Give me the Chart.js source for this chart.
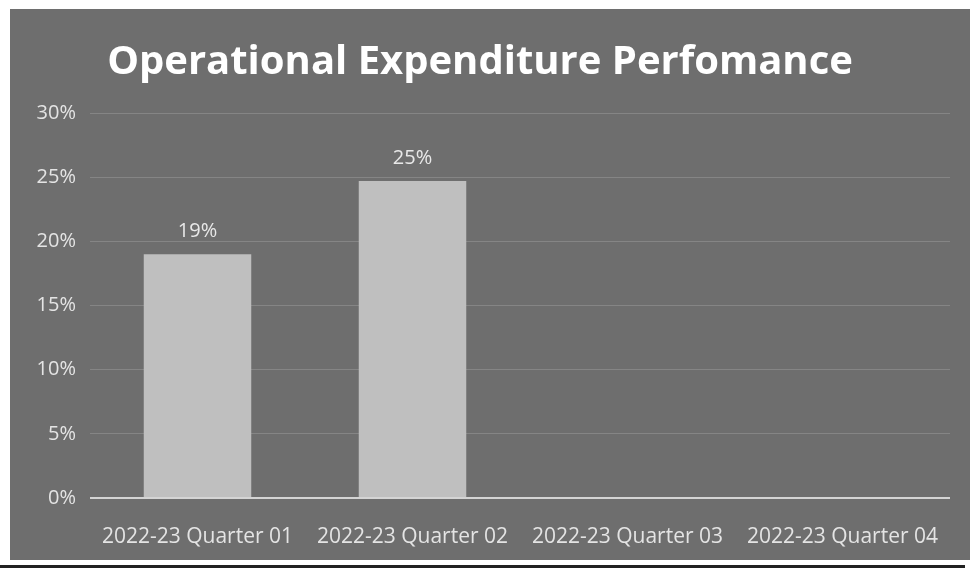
<!DOCTYPE html>
<html>
<head>
<meta charset="utf-8">
<script src="https://cdn.jsdelivr.net/npm/chart.js@4"></script>
<style>
    body { margin: 0; background: #fff; width: 970px; height: 574px; position: relative; overflow: hidden; }
    #box { position: absolute; left: 10px; top: 9px; width: 960px; height: 551px; background: #6e6e6e; }
    #rule { position: absolute; left: 0; top: 565px; width: 965px; height: 3px; background: #222; }
</style>
</head>
<body>
<div id="box"><canvas id="chart" width="960" height="551"></canvas></div>
<div id="rule"></div>
<script>
const quarters = ['2022-23 Quarter 01', '2022-23 Quarter 02', '2022-23 Quarter 03', '2022-23 Quarter 04'];
const spend = [19, 24.7, null, null];
const yTicks = [0, 5, 10, 15, 20, 25, 30];

// simple value labels above bars
const barLabels = {
    id: 'barLabels',
    afterDatasetsDraw(chart) {
        const ctx = chart.ctx;
        const meta = chart.getDatasetMeta(0);
        ctx.save();
        ctx.font = '20px "Open Sans"';
        ctx.fillStyle = '#e8e8e8';
        ctx.textAlign = 'center';
        ctx.textBaseline = 'bottom';
        meta.data.forEach((bar, i) => {
            const v = spend[i];
            if (v == null) return;
            ctx.fillText(Math.round(v) + '%', bar.x, bar.y - 13);
        });
        ctx.restore();
    }
};

document.addEventListener("DOMContentLoaded", () => {
    const ctx = document.getElementById('chart').getContext('2d');

    new Chart(ctx, {
        type: 'bar',
        data: {
            labels: quarters,
            datasets: [{
                data: spend,
                backgroundColor: '#bfbfbf',
                barPercentage: 0.5,
                categoryPercentage: 1
            }]
        },
        options: {
            responsive: false,
            animation: false,
            layout: { padding: { left: 0, right: 20, bottom: 0, top: 0 } },
            plugins: {
                legend: { display: false },
                tooltip: { enabled: false },
                title: {
                    display: true,
                    text: 'Operational Expenditure Perfomance',
                    color: '#ffffff',
                    font: { family: 'Open Sans', size: 40, weight: 'bold' },
                    padding: { top: 30, bottom: 26 }
                }
            },
            scales: {
                x: {
                    afterFit(axis) { axis.height = 62; },
                    grid: { display: false },
                    border: { display: false },
                    ticks: { color: '#e4e4e4', font: { family: 'Open Sans', size: 21 }, padding: 18, maxRotation: 0 }
                },
                y: {
                    min: 0,
                    max: 30,
                    afterFit(axis) { axis.width = 80; },
                    afterBuildTicks(axis) { axis.ticks = yTicks.map(v => ({ value: v })); },
                    border: { display: false },
                    grid: {
                        drawTicks: false,
                        color: c => c.tick.value === 0 ? '#d4d4d4' : '#858585',
                        lineWidth: c => c.tick.value === 0 ? 2 : 1
                    },
                    ticks: {
                        color: '#e4e4e4',
                        font: { family: 'Open Sans', size: 20 },
                        padding: 14,
                        callback: v => v + '%'
                    }
                }
            }
        },
        plugins: [barLabels]
    });
});
</script>
</body>
</html>
